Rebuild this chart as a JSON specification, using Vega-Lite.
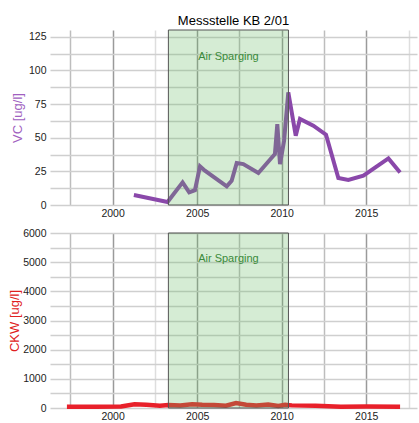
{
  "$schema": "https://vega.github.io/schema/vega-lite/v6.json",
  "padding": {"left": 8, "top": 14, "right": 2, "bottom": 2},
  "spacing": 9,
  "config": {
    "font": "Liberation Sans",
    "view": {"stroke": null},
    "axis": {
      "domain": false,
      "ticks": false,
      "labelOverlap": false,
      "labelFlush": false,
      "labelFontSize": 10.5,
      "labelColor": "#222222",
      "titleFontWeight": "normal",
      "titleFontSize": 13,
      "gridWidth": 1.5
    }
  },
  "datasets": {
    "vc": [
      {"year": 2001.26, "vc": 7.4},
      {"year": 2003.25, "vc": 2.2},
      {"year": 2004.14, "vc": 16.8},
      {"year": 2004.53, "vc": 9.4},
      {"year": 2004.87, "vc": 11},
      {"year": 2005.17, "vc": 28.7},
      {"year": 2005.46, "vc": 25.5},
      {"year": 2006.75, "vc": 13.8},
      {"year": 2007.04, "vc": 18},
      {"year": 2007.34, "vc": 31.2},
      {"year": 2007.73, "vc": 30.4},
      {"year": 2008.62, "vc": 23.8},
      {"year": 2009.6, "vc": 37.9},
      {"year": 2009.74, "vc": 60.1},
      {"year": 2009.9, "vc": 30.4},
      {"year": 2010.14, "vc": 47.7},
      {"year": 2010.39, "vc": 83.6},
      {"year": 2010.83, "vc": 51.5},
      {"year": 2011.08, "vc": 63.9},
      {"year": 2011.87, "vc": 58.9},
      {"year": 2012.62, "vc": 52.2},
      {"year": 2013.35, "vc": 20},
      {"year": 2013.94, "vc": 18.6},
      {"year": 2014.83, "vc": 21.8},
      {"year": 2016.31, "vc": 34.6},
      {"year": 2017.0, "vc": 24.2}
    ],
    "ckw": [
      {"year": 1997.3, "ckw": 40},
      {"year": 1999.0, "ckw": 40},
      {"year": 2000.5, "ckw": 50},
      {"year": 2001.3, "ckw": 130},
      {"year": 2002.0, "ckw": 110},
      {"year": 2002.8, "ckw": 80},
      {"year": 2003.3, "ckw": 100},
      {"year": 2004.0, "ckw": 90},
      {"year": 2004.7, "ckw": 130},
      {"year": 2005.3, "ckw": 110},
      {"year": 2006.0, "ckw": 100},
      {"year": 2006.7, "ckw": 80},
      {"year": 2007.3, "ckw": 170},
      {"year": 2007.9, "ckw": 110},
      {"year": 2008.5, "ckw": 90},
      {"year": 2009.2, "ckw": 120},
      {"year": 2009.8, "ckw": 70},
      {"year": 2010.2, "ckw": 110},
      {"year": 2010.6, "ckw": 90},
      {"year": 2012.0, "ckw": 80},
      {"year": 2013.5, "ckw": 40},
      {"year": 2015.0, "ckw": 50},
      {"year": 2017.0, "ckw": 40}
    ],
    "phase": [
      {"start": 2003.3, "end": 2010.4, "label": "Air Sparging"}
    ]
  },
  "vconcat": [
    {
      "title": {"text": "Messstelle KB 2/01", "fontSize": 13, "fontWeight": "normal", "offset": 2, "anchor": "middle", "color": "#000000"},
      "width": 367,
      "height": 175,
      "layer": [
        {
          "data": {"name": "vc"},
          "mark": {"type": "line", "color": "#8a48aa", "strokeWidth": 4},
          "encoding": {
            "x": {
              "field": "year", "type": "quantitative",
              "scale": {"domain": [1996.3, 2018.0], "nice": false, "zero": false},
              "axis": {
                "title": null,
                "values": [1997.5, 2000, 2002.5, 2005, 2007.5, 2010, 2012.5, 2015, 2017.5],
                "labelExpr": "datum.value % 5 == 0 ? datum.label : ''",
                "format": "d",
                "labelPadding": 3,
                "gridColor": {"condition": [{"test": "datum.value % 5 == 0", "value": "#9a9a9a"}, {"test": "datum.value == 2002.5 || datum.value == 2017.5", "value": "#dedede"}], "value": "#bdbdbd"}
              }
            },
            "y": {
              "field": "vc", "type": "quantitative",
              "scale": {"domain": [0, 130], "nice": false},
              "axis": {
                "title": "VC [ug/l]",
                "titleColor": "#a060c0",
                "titlePadding": 4,
                "labelPadding": 4,
                "values": [0, 12.5, 25, 37.5, 50, 62.5, 75, 87.5, 100, 112.5, 125],
                "labelExpr": "datum.value % 25 == 0 ? datum.label : ''",
                "gridColor": "#cfcfcf"
              }
            }
          }
        },
        {
          "data": {"name": "phase"},
          "mark": {"type": "rect", "fill": "#64b95f", "fillOpacity": 0.27, "stroke": "#555555", "strokeWidth": 1},
          "encoding": {
            "x": {"field": "start", "type": "quantitative"},
            "x2": {"field": "end"},
            "y": {
              "datum": 0, "type": "quantitative",
              "axis": {
                "title": "VC [ug/l]",
                "titleColor": "#a060c0",
                "titlePadding": 4,
                "labelPadding": 4,
                "values": [0, 12.5, 25, 37.5, 50, 62.5, 75, 87.5, 100, 112.5, 125],
                "labelExpr": "datum.value % 25 == 0 ? datum.label : ''",
                "gridColor": "#cfcfcf"
              }
            },
            "y2": {"datum": 130}
          }
        },
        {
          "data": {"name": "phase"},
          "transform": [{"calculate": "(datum.start + datum.end) / 2", "as": "mid"}],
          "mark": {"type": "text", "color": "#3a8a3a", "fontSize": 11},
          "encoding": {
            "x": {"field": "mid", "type": "quantitative"},
            "y": {
              "datum": 110, "type": "quantitative",
              "axis": {
                "title": "VC [ug/l]",
                "titleColor": "#a060c0",
                "titlePadding": 4,
                "labelPadding": 4,
                "values": [0, 12.5, 25, 37.5, 50, 62.5, 75, 87.5, 100, 112.5, 125],
                "labelExpr": "datum.value % 25 == 0 ? datum.label : ''",
                "gridColor": "#cfcfcf"
              }
            },
            "text": {"field": "label"}
          }
        }
      ]
    },
    {
      "width": 367,
      "height": 175,
      "layer": [
        {
          "data": {"name": "ckw"},
          "mark": {"type": "line", "color": "#e8202a", "strokeWidth": 4.5},
          "encoding": {
            "x": {
              "field": "year", "type": "quantitative",
              "scale": {"domain": [1996.3, 2018.0], "nice": false, "zero": false},
              "axis": {
                "title": null,
                "values": [1997.5, 2000, 2002.5, 2005, 2007.5, 2010, 2012.5, 2015, 2017.5],
                "labelExpr": "datum.value % 5 == 0 ? datum.label : ''",
                "format": "d",
                "labelPadding": 3,
                "gridColor": {"condition": [{"test": "datum.value % 5 == 0", "value": "#9a9a9a"}, {"test": "datum.value == 2002.5 || datum.value == 2017.5", "value": "#dedede"}], "value": "#bdbdbd"}
              }
            },
            "y": {
              "field": "ckw", "type": "quantitative",
              "scale": {"domain": [0, 6000], "nice": false},
              "axis": {
                "title": "CKW [ug/l]",
                "titleColor": "#e02020",
                "titlePadding": 1,
                "labelPadding": 4,
                "values": [0, 500, 1000, 1500, 2000, 2500, 3000, 3500, 4000, 4500, 5000, 5500, 6000],
                "labelExpr": "datum.value % 1000 == 0 ? datum.label : ''",
                "format": "d",
                "gridColor": "#cfcfcf"
              }
            }
          }
        },
        {
          "data": {"name": "phase"},
          "mark": {"type": "rect", "fill": "#64b95f", "fillOpacity": 0.27, "stroke": "#555555", "strokeWidth": 1},
          "encoding": {
            "x": {"field": "start", "type": "quantitative"},
            "x2": {"field": "end"},
            "y": {
              "datum": 0, "type": "quantitative",
              "axis": {
                "title": "CKW [ug/l]",
                "titleColor": "#e02020",
                "titlePadding": 1,
                "labelPadding": 4,
                "values": [0, 500, 1000, 1500, 2000, 2500, 3000, 3500, 4000, 4500, 5000, 5500, 6000],
                "labelExpr": "datum.value % 1000 == 0 ? datum.label : ''",
                "format": "d",
                "gridColor": "#cfcfcf"
              }
            },
            "y2": {"datum": 6000}
          }
        },
        {
          "data": {"name": "phase"},
          "transform": [{"calculate": "(datum.start + datum.end) / 2", "as": "mid"}],
          "mark": {"type": "text", "color": "#3a8a3a", "fontSize": 11},
          "encoding": {
            "x": {"field": "mid", "type": "quantitative"},
            "y": {
              "datum": 5100, "type": "quantitative",
              "axis": {
                "title": "CKW [ug/l]",
                "titleColor": "#e02020",
                "titlePadding": 1,
                "labelPadding": 4,
                "values": [0, 500, 1000, 1500, 2000, 2500, 3000, 3500, 4000, 4500, 5000, 5500, 6000],
                "labelExpr": "datum.value % 1000 == 0 ? datum.label : ''",
                "format": "d",
                "gridColor": "#cfcfcf"
              }
            },
            "text": {"field": "label"}
          }
        }
      ]
    }
  ]
}
